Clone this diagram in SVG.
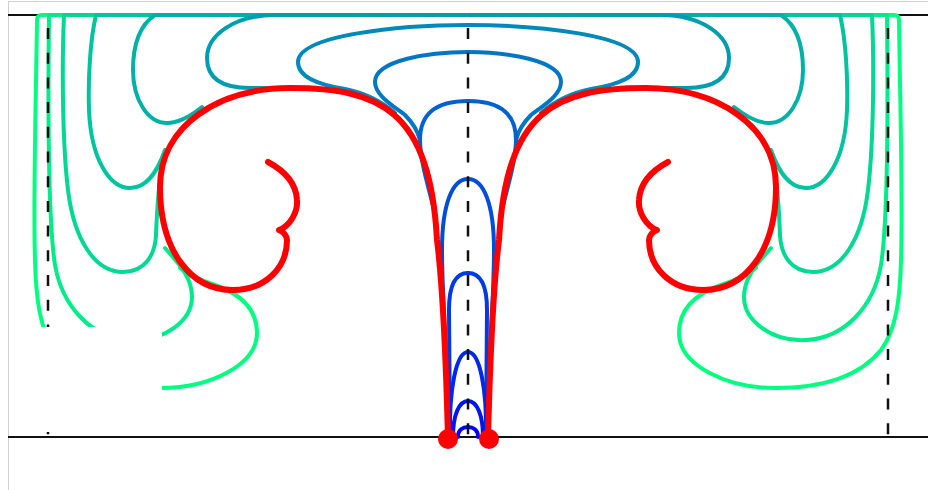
<svg xmlns="http://www.w3.org/2000/svg" xmlns:xlink="http://www.w3.org/1999/xlink" width="928" height="490" viewBox="0 0 928 490">
<style>
.s{fill:none;stroke-width:4;stroke-linecap:round;stroke-linejoin:round}
.ax{stroke:#111;stroke-width:2;fill:none}
.dash{stroke:#111;stroke-width:2.5;stroke-dasharray:11 13.7;fill:none}
.red{fill:none;stroke:#ff0000;stroke-width:6;stroke-linecap:round;stroke-linejoin:round}
</style>
<rect x="0" y="0" width="928" height="490" fill="#fff"/>
<rect x="8.5" y="1.5" width="930" height="500" fill="none" stroke="#d0d0d0" stroke-width="1"/>
<g id="axes">
<line class="ax" x1="8" y1="15" x2="928" y2="15"/>
<line class="ax" x1="8" y1="437" x2="928" y2="437"/>
</g>
<g id="left">
<path class="s" stroke="#00ff80" d="M468,15 L42,15 Q37,15 37,20 C36,100 33,200 35,260 C36,300 40,330 55,350 C75,375 110,388 161,388 C210,388 257,365 257,333 C257,305 235,292 215,285 C200,280 190,276 180,268"/>
<path class="s" stroke="#00eb89" d="M468,15 L49,15 C48,100 48,220 55,265 C62,305 90,338 130,340 C165,342 192,320 192,297 C192,275 175,260 165,248"/>
<path class="s" stroke="#00d893" d="M468,15 L64,15 C62,60 62,140 68,190 C74,240 95,272 123,272 C145,272 155,255 156,235 C157,210 158,185 162,170"/>
<path class="s" stroke="#00c49d" d="M468,15 L96,15 C90,40 88,80 89,110 C91,160 110,188 130,188 C148,188 158,170 165,150"/>
<path class="s" stroke="#00b1a7" d="M468,15 L155,15 C140,25 133,45 133,70 C133,100 148,123 167,123 C180,123 192,115 202,107"/>
<path class="s" stroke="#009db1" d="M468,15 L275,15 C235,15 207,35 207,58 C207,80 225,88 250,88 L290,88"/>
<path class="s" stroke="#0089ba" d="M468,25 C400,25 298,35 298,62 C298,78 320,85 345,89 C365,93 380,100 395,113"/>
<path class="s" stroke="#0076c4" d="M468,52 C430,52 375,60 375,82 C375,95 392,105 405,115 C413,123 418,132 420,140"/>
<path class="s" stroke="#0062ce" d="M468,101 C440,101 420,110 420,140 C420,160 428,185 434,210"/>
<path class="s" stroke="#004ed8" d="M450,437 C447,360 442,300 442,250 C442,205 452,179 468,179"/>
<path class="s" stroke="#003be2" d="M450,437 L449,310 C449,285 456,273 468,273"/>
<path class="s" stroke="#0027eb" d="M450,437 C449,390 456,352 468,352"/>
<path class="s" stroke="#0014f5" d="M453,437 C453,415 459,401 468,401"/>
<path class="s" stroke="#0000ff" d="M458,437 C458,430 463,427 468,427"/>
<path class="red" d="M448,439 C446,360 442,280 437,240 C430,110 380,88 290,88 C220,88 160,125 160,187 C160,250 190,290 233,290 C265,290 287,268 287,240 C287,236 283,231 279,230 C290,226 298,212 297,200 C296,182 283,170 268,162"/>
</g>
<use xlink:href="#left" href="#left" transform="matrix(-1 0 0 1 936 0)"/>
<g id="guides">
<line class="dash" x1="468" y1="28" x2="468" y2="437"/>
<line class="dash" x1="48" y1="28" x2="48" y2="437"/>
<line class="dash" x1="888" y1="28" x2="888" y2="437"/>
</g>
<rect x="37" y="327" width="125" height="105" fill="#fff"/>
<g id="dots" fill="#ff0000">
<circle cx="448" cy="439" r="10"/>
<circle cx="489" cy="439" r="10"/>
</g>
</svg>
